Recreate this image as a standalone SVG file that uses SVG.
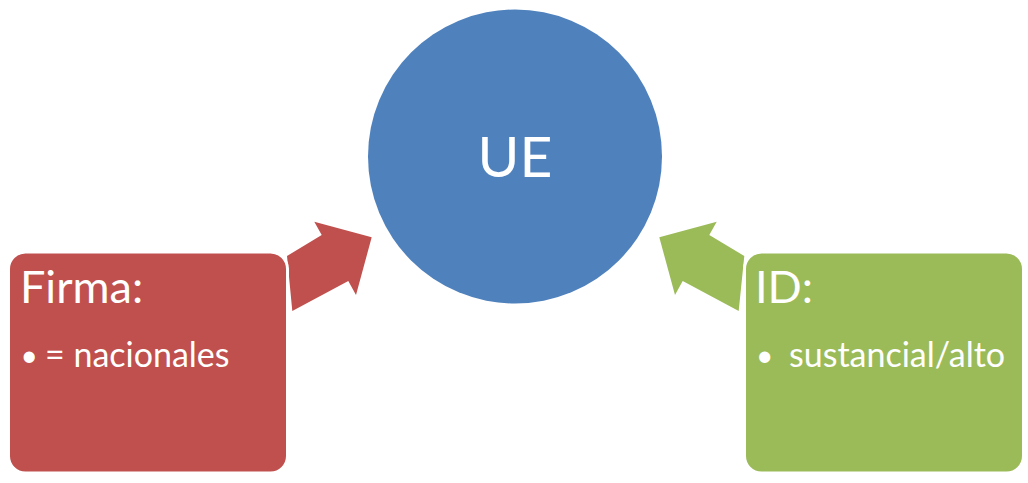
<svg xmlns="http://www.w3.org/2000/svg" width="1028" height="483" viewBox="0 0 1028 483">
<style>
text{font-family:Lato,"Open Sans","Liberation Sans",sans-serif;fill:#FFFFFF}
.t{font-size:45px}
.b{font-size:34px}
.d{font-size:30px}
.box{stroke:#FFFFFF;stroke-width:3}
</style>
<rect width="1028" height="483" fill="#FFFFFF"/>
<g id="connectors">
<polygon id="arrow-firma" fill="#C0504D" points="287,256 321.7,235 314.3,221.7 371.7,237.3 356,295 348.3,281 292.3,311"/>
<polygon id="arrow-id" fill="#9BBB59" points="744.3,256 709.3,235 716.7,221.7 659.3,237.3 675,295 682.7,281 738.7,311"/>
</g>
<g id="node-ue">
<circle cx="515" cy="156.5" r="147" fill="#4F81BD"/>
<text x="515" y="177" font-size="57" text-anchor="middle">UE</text>
</g>
<g id="node-firma">
<rect class="box" x="8.5" y="252" width="279" height="221" rx="17" fill="#C0504D"/>
<text class="t" x="20" y="303">Firma:</text>
<text class="d" x="20.5" y="366">•</text>
<text class="b" x="45" y="367">= nacionales</text>
</g>
<g id="node-id">
<rect class="box" x="744.5" y="252" width="279" height="221" rx="17" fill="#9BBB59"/>
<text class="t" x="755" y="303">ID:</text>
<text class="d" x="756" y="366">•</text>
<text class="b" x="789" y="367">sustancial/alto</text>
</g>
</svg>
